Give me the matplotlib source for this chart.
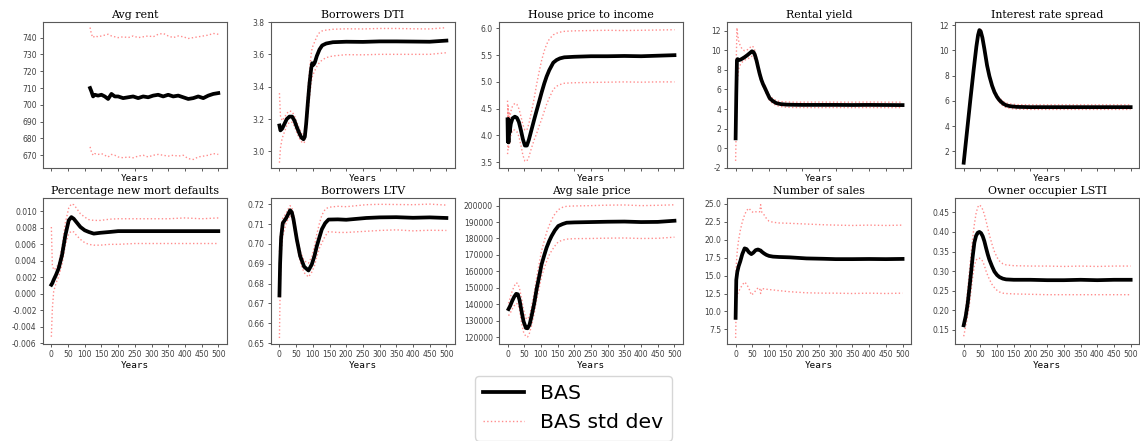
import matplotlib
matplotlib.use('Agg')
import matplotlib.pyplot as plt
from matplotlib.ticker import MultipleLocator, FormatStrFormatter

# ---- data (year index vs mean, mean+std, mean-std) ----
rent_years = [116, 120, 125, 130, 140, 150, 160, 170, 180, 190, 200, 215, 230, 245, 260, 275,
              290, 305, 320, 335, 350, 365, 380, 395, 410, 425, 440, 455, 470, 485, 500]
rent_mean = [710, 708, 705, 706, 705.5, 706, 705, 703.5, 706.5, 705, 705, 704, 704.5, 705, 704, 705,
             704.5, 705.5, 706, 705, 706, 705, 705.5, 704.5, 703.5, 704, 705, 704, 705.5, 706.5, 707]
rent_upper = [746, 742, 740, 741, 740.5, 741, 741.5, 742, 741, 740.5, 740, 740.5, 740, 741, 740, 740.5,
              741, 740.5, 742, 742.5, 741, 740, 741, 740.5, 739.5, 740, 740.5, 741, 741.5, 742.5, 742]
rent_lower = [675, 672, 670, 671, 670.5, 671, 670, 669, 670.5, 670, 669, 668.5, 669, 668.5, 669.5, 670,
              669, 670, 670.5, 670, 669.5, 670, 669.5, 670, 668, 667.5, 669, 669.5, 670, 671, 670.5]

dti_years = [0, 3, 8, 15, 22, 30, 38, 45, 52, 60, 66, 72, 76, 80, 85, 90, 95, 98, 102, 106, 112, 120,
             128, 140, 160, 200, 250, 300, 350, 400, 450, 500]
dti_mean = [3.16, 3.13, 3.14, 3.17, 3.20, 3.215, 3.215, 3.19, 3.15, 3.11, 3.085, 3.075, 3.09, 3.17, 3.30,
            3.42, 3.51, 3.545, 3.535, 3.55, 3.59, 3.63, 3.655, 3.667, 3.675, 3.678, 3.677, 3.68, 3.68,
            3.679, 3.678, 3.685]
dti_upper = [3.36, 3.22, 3.19, 3.21, 3.235, 3.25, 3.245, 3.22, 3.18, 3.14, 3.11, 3.10, 3.12, 3.22, 3.38,
             3.50, 3.60, 3.64, 3.66, 3.68, 3.71, 3.735, 3.745, 3.75, 3.755, 3.758, 3.757, 3.76, 3.76,
             3.758, 3.757, 3.765]
dti_lower = [2.93, 3.02, 3.08, 3.12, 3.16, 3.18, 3.18, 3.155, 3.115, 3.08, 3.06, 3.05, 3.06, 3.12, 3.23,
             3.33, 3.42, 3.46, 3.48, 3.50, 3.525, 3.55, 3.565, 3.58, 3.59, 3.598, 3.597, 3.6, 3.6,
             3.6, 3.6, 3.61]

hpi_years = [0, 1, 2, 3, 4, 6, 10, 15, 22, 28, 34, 40, 46, 52, 58, 64, 72, 80, 87, 95, 102, 110, 117,
             125, 137, 147, 157, 170, 200, 250, 300, 350, 400, 450, 500]
hpi_mean = [4.30, 3.88, 4.30, 3.87, 4.28, 4.05, 4.22, 4.32, 4.35, 4.33, 4.25, 4.10, 3.93, 3.81, 3.81,
            3.92, 4.11, 4.30, 4.46, 4.64, 4.80, 4.97, 5.10, 5.22, 5.36, 5.41, 5.44, 5.46, 5.47, 5.48,
            5.48, 5.485, 5.48, 5.49, 5.50]
hpi_upper = [4.65, 4.35, 4.55, 4.25, 4.45, 4.30, 4.45, 4.55, 4.60, 4.58, 4.50, 4.36, 4.20, 4.10, 4.10,
             4.22, 4.45, 4.70, 4.95, 5.20, 5.40, 5.58, 5.70, 5.80, 5.88, 5.91, 5.93, 5.945, 5.955, 5.96,
             5.965, 5.96, 5.965, 5.97, 5.975]
hpi_lower = [3.65, 3.70, 4.00, 3.75, 4.05, 3.85, 4.00, 4.10, 4.10, 4.07, 3.98, 3.82, 3.63, 3.52, 3.52,
             3.60, 3.77, 3.92, 4.03, 4.18, 4.30, 4.45, 4.58, 4.70, 4.86, 4.92, 4.95, 4.975, 4.985, 4.99,
             4.995, 5.0, 4.995, 5.0, 5.0]

ry_years = [0, 2, 4, 6, 10, 15, 20, 27, 35, 42, 49, 54, 58, 63, 67, 72, 77, 82, 87, 95, 102, 112, 122,
            135, 152, 175, 200, 250, 300, 350, 400, 450, 500]
ry_mean = [1.0, 5.5, 9.0, 9.1, 9.0, 9.05, 9.15, 9.3, 9.5, 9.7, 9.9, 9.8, 9.5, 8.9, 8.3, 7.6, 7.0, 6.55,
           6.2, 5.6, 5.1, 4.8, 4.6, 4.5, 4.45, 4.43, 4.42, 4.42, 4.42, 4.41, 4.42, 4.41, 4.4]
ry_upper = [1.2, 9.0, 12.3, 11.6, 10.8, 10.4, 10.1, 9.95, 10.05, 10.25, 10.45, 10.3, 9.95, 9.3, 8.65,
            7.9, 7.25, 6.8, 6.45, 5.85, 5.35, 5.05, 4.85, 4.75, 4.72, 4.7, 4.7, 4.71, 4.7, 4.7, 4.71,
            4.7, 4.7]
ry_lower = [-1.3, 2.5, 6.0, 7.2, 8.2, 8.6, 8.8, 9.0, 9.1, 9.25, 9.4, 9.3, 9.05, 8.5, 7.95, 7.3, 6.75,
            6.3, 5.95, 5.35, 4.85, 4.55, 4.35, 4.25, 4.18, 4.15, 4.15, 4.14, 4.15, 4.14, 4.15, 4.14, 4.14]

irs_years = [0, 10, 20, 30, 38, 43, 47, 51, 56, 62, 70, 77, 85, 92, 100, 107, 117, 127, 140, 160, 200,
             300, 400, 500]
irs_mean = [1.1, 3.6, 6.1, 8.5, 10.3, 11.2, 11.6, 11.5, 11.0, 10.1, 8.8, 7.95, 7.2, 6.7, 6.3, 6.05,
            5.8, 5.65, 5.57, 5.52, 5.5, 5.5, 5.5, 5.5]
irs_upper = [1.15, 3.7, 6.2, 8.62, 10.45, 11.35, 11.75, 11.65, 11.15, 10.25, 8.95, 8.1, 7.36, 6.87,
             6.47, 6.23, 5.98, 5.83, 5.75, 5.7, 5.68, 5.68, 5.68, 5.68]
irs_lower = [1.05, 3.5, 6.0, 8.38, 10.15, 11.05, 11.45, 11.35, 10.85, 9.95, 8.65, 7.8, 7.04, 6.53,
             6.13, 5.87, 5.62, 5.47, 5.39, 5.34, 5.32, 5.32, 5.32, 5.32]

def_years = [0, 3, 7, 14, 22, 32, 42, 52, 60, 67, 75, 87, 100, 112, 127, 147, 175, 200, 250, 300,
             350, 400, 450, 500]
def_mean = [0.0011, 0.0013, 0.0017, 0.0023, 0.0031, 0.0047, 0.0071, 0.0089, 0.0093, 0.0091, 0.0087,
            0.0081, 0.0077, 0.0075, 0.0073, 0.0074, 0.0075, 0.0076, 0.0076, 0.0076, 0.0076, 0.0076,
            0.0076, 0.0076]
def_upper = [0.0081, 0.0035, 0.0029, 0.0031, 0.0037, 0.0057, 0.0086, 0.0104, 0.0109, 0.0108, 0.0104,
             0.0097, 0.0093, 0.0090, 0.0089, 0.0089, 0.00905, 0.0091, 0.0091, 0.0091, 0.0091, 0.0092,
             0.0091, 0.0092]
def_lower = [-0.0052, -0.0018, 0.0003, 0.0013, 0.0021, 0.0036, 0.0059, 0.0073, 0.0076, 0.0075, 0.0071,
             0.0066, 0.0062, 0.0060, 0.0059, 0.0059, 0.0060, 0.0060, 0.0061, 0.0061, 0.0061, 0.0061,
             0.0061, 0.0061]

ltv_years = [0, 2, 5, 10, 20, 26, 32, 37, 42, 52, 62, 74, 87, 97, 105, 112, 120, 127, 137, 147, 175,
             200, 260, 300, 350, 400, 450, 500]
ltv_mean = [0.674, 0.690, 0.703, 0.7105, 0.713, 0.715, 0.717, 0.716, 0.7125, 0.7023, 0.6939, 0.6885,
            0.6866, 0.6897, 0.694, 0.6989, 0.7035, 0.7074, 0.7105, 0.7123, 0.7124, 0.7122, 0.7131,
            0.7134, 0.7135, 0.7132, 0.7134, 0.7131]
ltv_upper = [0.696, 0.703, 0.708, 0.713, 0.7155, 0.7175, 0.7193, 0.7185, 0.715, 0.7045, 0.6965, 0.6915,
             0.6903, 0.6935, 0.699, 0.705, 0.7105, 0.7145, 0.7175, 0.7185, 0.719, 0.7188, 0.7198,
             0.7200, 0.7199, 0.7198, 0.7201, 0.7196]
ltv_lower = [0.6525, 0.677, 0.695, 0.704, 0.7105, 0.7125, 0.7145, 0.7135, 0.710, 0.700, 0.691, 0.6855,
             0.6833, 0.6858, 0.689, 0.6935, 0.698, 0.7005, 0.704, 0.7062, 0.7058, 0.7058, 0.7064,
             0.7068, 0.7071, 0.7066, 0.7069, 0.7068]

sp_years = [3, 8, 14, 20, 26, 31, 36, 42, 48, 55, 60, 66, 72, 80, 87, 95, 102, 110, 117, 125, 132,
            142, 152, 165, 177, 200, 250, 300, 350, 400, 450, 500]
sp_mean = [137000, 139000, 142000, 144500, 146300, 146000, 142500, 135700, 129500, 125500, 125300,
           127500, 132700, 140500, 149000, 157000, 164200, 169800, 174400, 178500, 181500, 185000,
           187600, 188800, 189600, 189800, 190000, 190200, 190300, 190000, 190100, 190800]
sp_upper = [140500, 144000, 148000, 151000, 153000, 152500, 149500, 143500, 136500, 131500, 130800,
            133000, 138500, 147000, 156000, 165000, 172500, 178500, 183700, 188000, 191500, 195000,
            197500, 199000, 199600, 199800, 200000, 200300, 200400, 200000, 200200, 200500]
sp_lower = [133000, 134500, 137000, 139000, 140500, 140000, 136500, 128500, 123000, 120300, 120000,
            122500, 127000, 134500, 142500, 150000, 157000, 162000, 166000, 170000, 172500, 175500,
            178000, 179000, 179600, 179900, 180000, 180200, 180300, 180000, 180100, 180800]

ns_years = [0, 2, 5, 9, 14, 20, 27, 33, 40, 47, 53, 60, 67, 72, 75, 78, 85, 92, 100, 112, 130, 162,
            212, 262, 300, 350, 400, 450, 500]
ns_mean = [9.1, 14.4, 15.5, 16.3, 17.0, 18.0, 18.8, 18.7, 18.25, 18.0, 18.2, 18.55, 18.65, 18.55, 18.5,
           18.35, 18.1, 17.9, 17.75, 17.65, 17.6, 17.55, 17.4, 17.35, 17.3, 17.3, 17.32, 17.3, 17.33]
ns_upper = [12.0, 16.5, 18.5, 20.0, 21.3, 22.5, 23.5, 24.1, 24.4, 24.0, 23.8, 23.9, 23.95, 23.9, 24.9,
            23.9, 23.5, 23.0, 22.6, 22.45, 22.35, 22.3, 22.2, 22.1, 22.05, 22.0, 22.05, 22.0, 22.05]
ns_lower = [6.3, 11.5, 12.3, 12.8, 13.2, 13.7, 14.1, 13.8, 13.2, 12.3, 12.5, 12.9, 13.3, 13.2, 12.5,
            13.2, 13.15, 13.1, 13.05, 13.0, 12.9, 12.75, 12.6, 12.55, 12.55, 12.5, 12.55, 12.5, 12.55]

lsti_years = [0, 6, 12, 17, 22, 27, 32, 37, 42, 47, 52, 57, 62, 67, 72, 77, 85, 92, 100, 107, 117, 127,
              150, 200, 250, 300, 350, 400, 450, 500]
lsti_mean = [0.162, 0.185, 0.218, 0.256, 0.296, 0.338, 0.373, 0.390, 0.398, 0.400, 0.397, 0.389, 0.376,
             0.359, 0.343, 0.329, 0.312, 0.299, 0.290, 0.285, 0.281, 0.279, 0.278, 0.278, 0.277, 0.277,
             0.278, 0.277, 0.278, 0.278]
lsti_upper = [0.165, 0.205, 0.252, 0.30, 0.342, 0.385, 0.420, 0.447, 0.463, 0.469, 0.465, 0.457, 0.444,
              0.428, 0.41, 0.392, 0.368, 0.35, 0.335, 0.326, 0.319, 0.316, 0.314, 0.313, 0.313, 0.312,
              0.313, 0.312, 0.313, 0.313]
lsti_lower = [0.134, 0.16, 0.188, 0.215, 0.25, 0.285, 0.315, 0.328, 0.333, 0.333, 0.331, 0.325, 0.314,
              0.300, 0.289, 0.279, 0.266, 0.258, 0.251, 0.247, 0.244, 0.243, 0.242, 0.241, 0.240, 0.240,
              0.240, 0.240, 0.240, 0.240]

year_ticks = list(range(0, 501, 50))

# title, series, y-limits, y tick step, tick format
panels = [
    ("Avg rent", (rent_years, rent_mean, rent_upper, rent_lower), (662.4, 749.3), 10, "%d"),
    ("Borrowers DTI", (dti_years, dti_mean, dti_upper, dti_lower), (2.897, 3.8), 0.2, "%.1f"),
    ("House price to income", (hpi_years, hpi_mean, hpi_upper, hpi_lower), (3.39, 6.12), 0.5, "%.1f"),
    ("Rental yield", (ry_years, ry_mean, ry_upper, ry_lower), (-2.03, 12.89), 2, "%d"),
    ("Interest rate spread", (irs_years, irs_mean, irs_upper, irs_lower), (0.68, 12.24), 2, "%d"),
    ("Percentage new mort defaults", (def_years, def_mean, def_upper, def_lower), (-0.00608, 0.01162), 0.002, "%.3f"),
    ("Borrowers LTV", (ltv_years, ltv_mean, ltv_upper, ltv_lower), (0.6495, 0.7232), 0.01, "%.2f"),
    ("Avg sale price", (sp_years, sp_mean, sp_upper, sp_lower), (115740, 204670), 10000, "%d"),
    ("Number of sales", (ns_years, ns_mean, ns_upper, ns_lower), (5.45, 25.84), 2.5, "%.1f"),
    ("Owner occupier LSTI", (lsti_years, lsti_mean, lsti_upper, lsti_lower), (0.1143, 0.4866), 0.05, "%.2f"),
]

plt.rcParams['axes.unicode_minus'] = True
fig, axes = plt.subplots(2, 5, figsize=(11.4, 4.41), dpi=100, sharex=True)
fig.subplots_adjust(left=43 / 1140, right=1139 / 1140, top=1 - 22 / 441, bottom=1 - 344 / 441,
                    wspace=0.242, hspace=0.205)

for ax, (title, (yrs, mean, upper, lower), ylim, step, fmt) in zip(axes.flat, panels):
    mean_line, = ax.plot(yrs, mean, color='black', lw=2.7, label='BAS', zorder=3)
    std_line, = ax.plot(yrs, upper, color='red', ls=':', lw=1.0, alpha=0.45, label='BAS std dev')
    ax.plot(yrs, lower, color='red', ls=':', lw=1.0, alpha=0.45)
    ax.set_title(title, family='DejaVu Serif', fontsize=7.9, pad=3)
    ax.set_xlabel('Years', family='DejaVu Sans Mono', fontsize=6.7, labelpad=1.5)
    ax.set_xlim(-25, 525)
    ax.set_xticks(year_ticks)
    ax.set_ylim(*ylim)
    ax.yaxis.set_major_locator(MultipleLocator(step))
    ax.yaxis.set_major_formatter(FormatStrFormatter(fmt))
    ax.tick_params(labelsize=5.5, colors='0.25', length=2.5, width=0.6, pad=2)
    for sp in ax.spines.values():
        sp.set_color('0.35')
        sp.set_linewidth(0.8)

for ax in axes[0]:
    ax.tick_params(labelbottom=False)
    ax.xaxis.label.set_visible(True)

fig.legend(handles=[mean_line, std_line], labels=['BAS', 'BAS std dev'], loc='upper center',
           bbox_to_anchor=(0.503, 1 - 376 / 441), fontsize=14.7, handlelength=2.0,
           borderaxespad=0.0, frameon=True)

fig.savefig('out.png', dpi=100)
